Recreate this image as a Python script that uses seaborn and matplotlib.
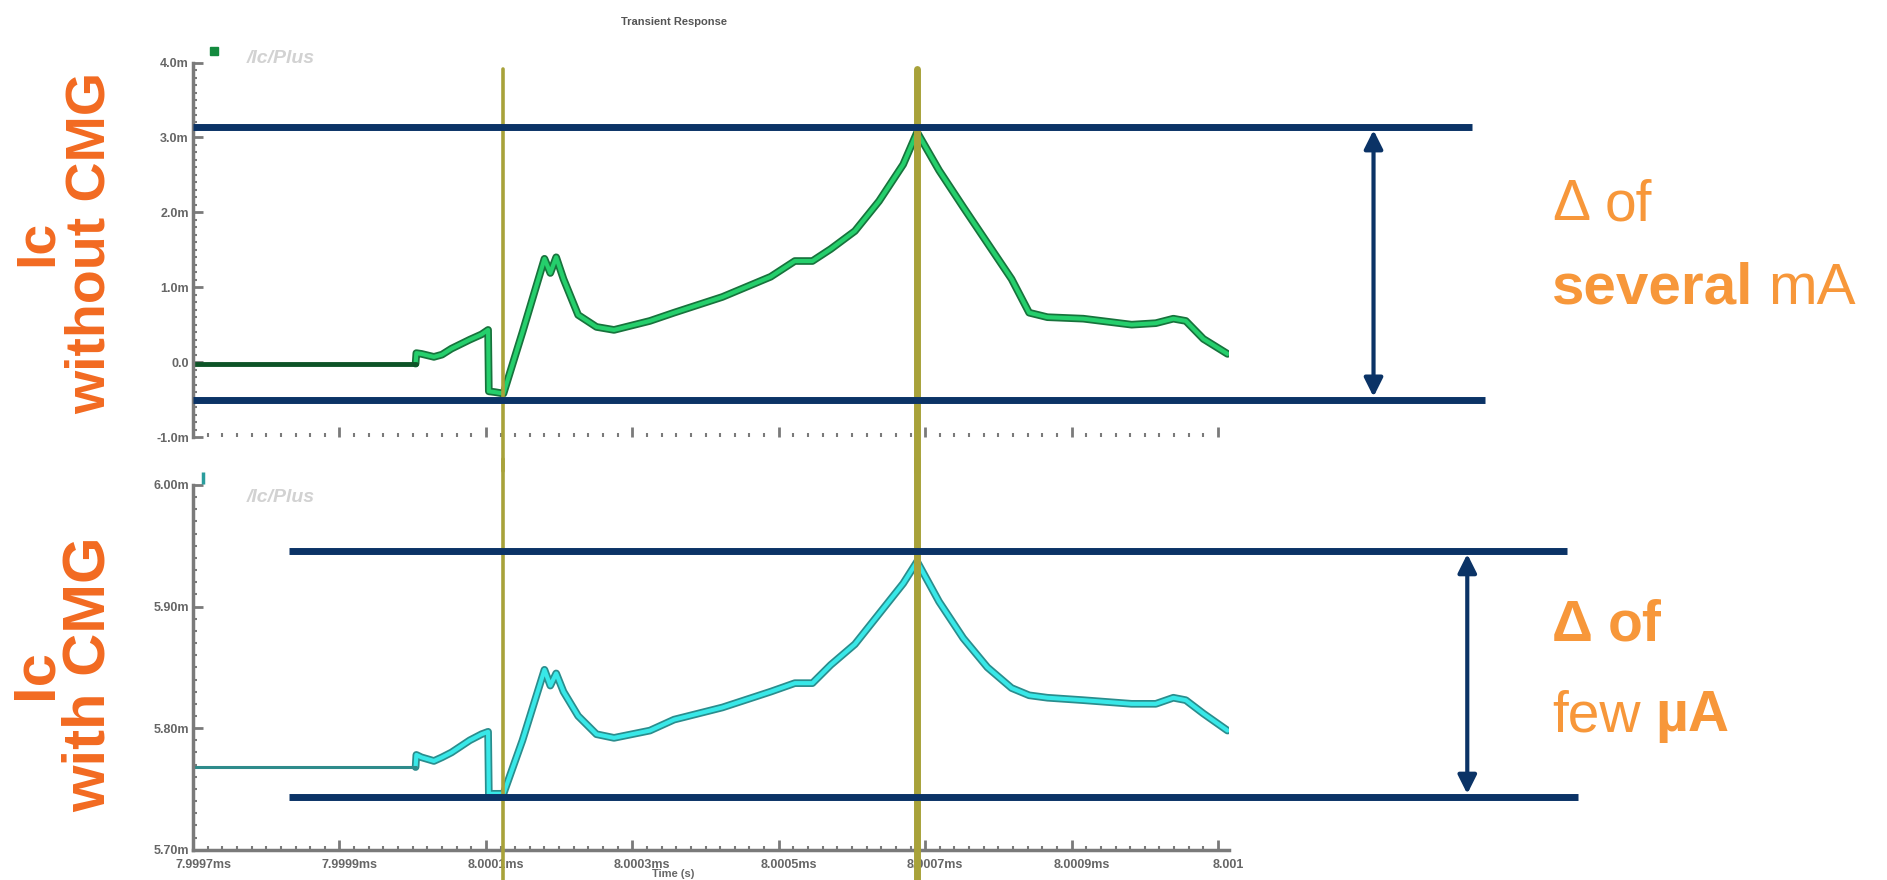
import matplotlib
matplotlib.use("Agg")
import pandas as pd
import matplotlib.pyplot as plt
import seaborn as sns
from matplotlib.ticker import AutoMinorLocator
from matplotlib.transforms import blended_transform_factory, ScaledTranslation

# ---- data ----
# time in microseconds
time_us = [7999.700, 8000.004, 8000.005, 8000.012, 8000.029, 8000.040, 8000.053, 8000.078,
           8000.094, 8000.103, 8000.104, 8000.112, 8000.124, 8000.150, 8000.180, 8000.188,
           8000.196, 8000.206, 8000.226, 8000.251, 8000.275, 8000.324, 8000.357, 8000.423,
           8000.489, 8000.522, 8000.546, 8000.571, 8000.604, 8000.637, 8000.670, 8000.689,
           8000.719, 8000.752, 8000.785, 8000.818, 8000.842, 8000.867, 8000.916, 8000.982,
           8001.015, 8001.039, 8001.056, 8001.080, 8001.113]
# Ic without CMG (mA)
ic_no_cmg = [-0.02, -0.02, 0.12, 0.11, 0.07, 0.10, 0.18, 0.30,
             0.37, 0.43, -0.39, -0.40, -0.42, 0.40, 1.38, 1.19,
             1.40, 1.11, 0.63, 0.47, 0.43, 0.55, 0.66, 0.87,
             1.14, 1.35, 1.35, 1.51, 1.75, 2.15, 2.64, 3.07,
             2.56, 2.07, 1.59, 1.11, 0.66, 0.60, 0.58, 0.50,
             0.52, 0.58, 0.55, 0.31, 0.11]
# Ic with CMG (mA)
ic_cmg = [5.768, 5.768, 5.778, 5.776, 5.773, 5.776, 5.780, 5.790,
          5.795, 5.797, 5.746, 5.746, 5.746, 5.790, 5.848, 5.835,
          5.845, 5.830, 5.810, 5.795, 5.792, 5.798, 5.807, 5.817,
          5.830, 5.837, 5.837, 5.852, 5.869, 5.894, 5.919, 5.937,
          5.904, 5.874, 5.850, 5.833, 5.827, 5.825, 5.823, 5.820,
          5.820, 5.825, 5.823, 5.812, 5.798]

markers_us = [8000.124, 8000.689]          # cursor positions
band_top = [3.135, -0.50]                  # max / min levels, top panel
band_bottom = [5.9455, 5.7436]             # max / min levels, bottom panel

x_ticks = [7999.7, 7999.9, 8000.1, 8000.3, 8000.5, 8000.7, 8000.9, 8001.1]
x_labels = ["7.9997ms", "7.9999ms", "8.0001ms", "8.0003ms", "8.0005ms", "8.0007ms", "8.0009ms", "8.001"]
y_ticks_top = [-1, 0, 1, 2, 3, 4]
y_labels_top = ["-1.0m", "0.0", "1.0m", "2.0m", "3.0m", "4.0m"]
y_ticks_bot = [5.70, 5.80, 5.90, 6.00]
y_labels_bot = ["5.70m", "5.80m", "5.90m", "6.00m"]

df = pd.DataFrame({"t": time_us, "no_cmg": ic_no_cmg, "cmg": ic_cmg})

sns.set_theme(style="white")
plt.rcParams["font.family"] = ["Liberation Sans", "DejaVu Sans"]

NAVY = "#0b3366"
OLIVE = "#a8a23a"
ORANGE_L = "#f26a21"
ORANGE_R = "#f7973a"
GRAY = "#7a7a7a"

fig = plt.figure(figsize=(18.87, 8.8), dpi=100)
ax1 = fig.add_axes([0.1023, 0.5034, 0.549, 0.4255])
ax2 = fig.add_axes([0.1023, 0.0344, 0.549, 0.4145])


def style_axis(ax, yt, yl, ylim, show_x):
    ax.set_xlim(7999.7, 8001.115)
    ax.set_ylim(*ylim)
    ax.set_yticks(yt)
    ax.set_yticklabels(yl)
    ax.set_xticks(x_ticks)
    ax.set_xticklabels(x_labels if show_x else [])
    ax.xaxis.set_minor_locator(AutoMinorLocator(10))
    ax.yaxis.set_minor_locator(AutoMinorLocator(10))
    ax.tick_params(which="major", direction="in", length=7, width=2, color=GRAY,
                   labelsize=9, labelcolor="#666666", pad=3, left=True, bottom=True)
    ax.tick_params(which="minor", direction="in", length=3, width=1.5, color=GRAY,
                   left=True, bottom=True)
    for lab in ax.get_xticklabels() + ax.get_yticklabels():
        lab.set_fontweight("bold")
    for lab in ax.get_xticklabels():
        lab.set_transform(lab.get_transform() + ScaledTranslation(0.1, -0.05, fig.dpi_scale_trans))
    for s in ["top", "right"]:
        ax.spines[s].set_visible(False)
    ax.spines["left"].set_color(GRAY)
    ax.spines["left"].set_linewidth(2.5)
    ax.spines["bottom"].set_color(GRAY)
    ax.spines["bottom"].set_linewidth(2.5 if show_x else 0.0)
    ax.set_xlabel("")
    ax.set_ylabel("")
    ax.grid(False)


# ---- curves ----
sns.lineplot(data=df.iloc[1:], x="t", y="no_cmg", ax=ax1, sort=False, estimator=None,
             color="#17733c", lw=5.5, zorder=2)
sns.lineplot(data=df.iloc[1:], x="t", y="no_cmg", ax=ax1, sort=False, estimator=None,
             color="#25cf6c", lw=3.0, zorder=2)
sns.lineplot(data=df.iloc[:2], x="t", y="no_cmg", ax=ax1, sort=False, estimator=None,
             color="#0d5427", lw=3.5, zorder=2)

sns.lineplot(data=df.iloc[1:], x="t", y="cmg", ax=ax2, sort=False, estimator=None,
             color="#2a8d8d", lw=5.5, zorder=2)
sns.lineplot(data=df.iloc[1:], x="t", y="cmg", ax=ax2, sort=False, estimator=None,
             color="#38e8e8", lw=3.0, zorder=2)
sns.lineplot(data=df.iloc[:2], x="t", y="cmg", ax=ax2, sort=False, estimator=None,
             color="#2e8b8b", lw=2.2, zorder=2)

style_axis(ax1, y_ticks_top, y_labels_top, (-1.0, 4.0), False)
style_axis(ax2, y_ticks_bot, y_labels_bot, (5.70, 6.00), True)
ax1.spines["bottom"].set_visible(False)

# small legend swatches next to the axis tops
ax1.plot([0.02], [1.03], transform=ax1.transAxes, marker="s", ms=6, color="#138a3e", clip_on=False)
ax2.plot([0.01], [1.02], transform=ax2.transAxes, marker="|", ms=8, mew=2.5, color="#2a9d9d", clip_on=False)

# ---- cursors ----
for x, lw in zip(markers_us, [2.6, 5.0]):
    ax1.axvline(x, ymin=-0.09, ymax=0.984, color=OLIVE, lw=lw, clip_on=False, zorder=3)
    ax2.axvline(x, ymin=-0.09, ymax=1.07, color=OLIVE, lw=lw, clip_on=False, zorder=3)

# ---- max / min bands with arrows ----
def band(ax, levels, x0s, x1s, xarrow):
    tr = blended_transform_factory(ax.transAxes, ax.transData)
    for y, x0, x1 in zip(levels, x0s, x1s):
        ax.plot([x0, x1], [y, y], transform=tr, color=NAVY, lw=5, clip_on=False,
                solid_capstyle="butt", zorder=5)
    ax.annotate("", xy=(xarrow, levels[0]), xytext=(xarrow, levels[1]),
                xycoords=tr, textcoords=tr, annotation_clip=False,
                arrowprops=dict(arrowstyle="<|-|>", color=NAVY, lw=3,
                                mutation_scale=28, shrinkA=2, shrinkB=2), zorder=5)


band(ax1, band_top, [0.0, 0.0], [1.235, 1.247], 1.1395)
band(ax2, band_bottom, [0.093, 0.093], [1.326, 1.337], 1.230)

# ---- texts ----
fig.text(0.357, 0.975, "Transient Response", fontsize=8, fontweight="bold", color="#555555",
         ha="center", va="center")
fig.text(0.131, 0.934, "/Ic/Plus", fontsize=14, fontstyle="italic", fontweight="bold",
         color="#d2d2d2", ha="left", va="center")
fig.text(0.131, 0.435, "/Ic/Plus", fontsize=14, fontstyle="italic", fontweight="bold",
         color="#d2d2d2", ha="left", va="center")
fig.text(0.357, 0.001, "Time (s)", fontsize=8, fontweight="bold", color="#666666",
         ha="center", va="bottom")

fig.text(0.034, 0.724, "Ic\nwithout CMG", rotation=90, fontsize=40, fontweight="bold",
         color=ORANGE_L, ha="center", va="center", multialignment="center", linespacing=1.0)
fig.text(0.033, 0.234, "Ic\nwith CMG", rotation=90, fontsize=43, fontweight="bold",
         color=ORANGE_L, ha="center", va="center", multialignment="center", linespacing=0.95)

renderer = fig.canvas.get_renderer()


def runs(x, y, parts, size):
    for s, weight in parts:
        t = fig.text(x, y, s, fontsize=size, fontweight=weight, color=ORANGE_R,
                     ha="left", va="center")
        w = t.get_window_extent(renderer).width / fig.bbox.width
        x += w + 0.25 * size * 100 / 72 / fig.bbox.width


runs(0.8226, 0.767, [("\u0394", "normal"), ("of", "normal")], 41)
runs(0.8226, 0.672, [("several", "bold"), ("mA", "normal")], 42)
runs(0.8226, 0.289, [("\u0394", "bold"), ("of", "bold")], 41)
runs(0.8226, 0.186, [("few", "normal"), ("\u00b5A", "bold")], 41)

fig.savefig("out.png", dpi=100)
